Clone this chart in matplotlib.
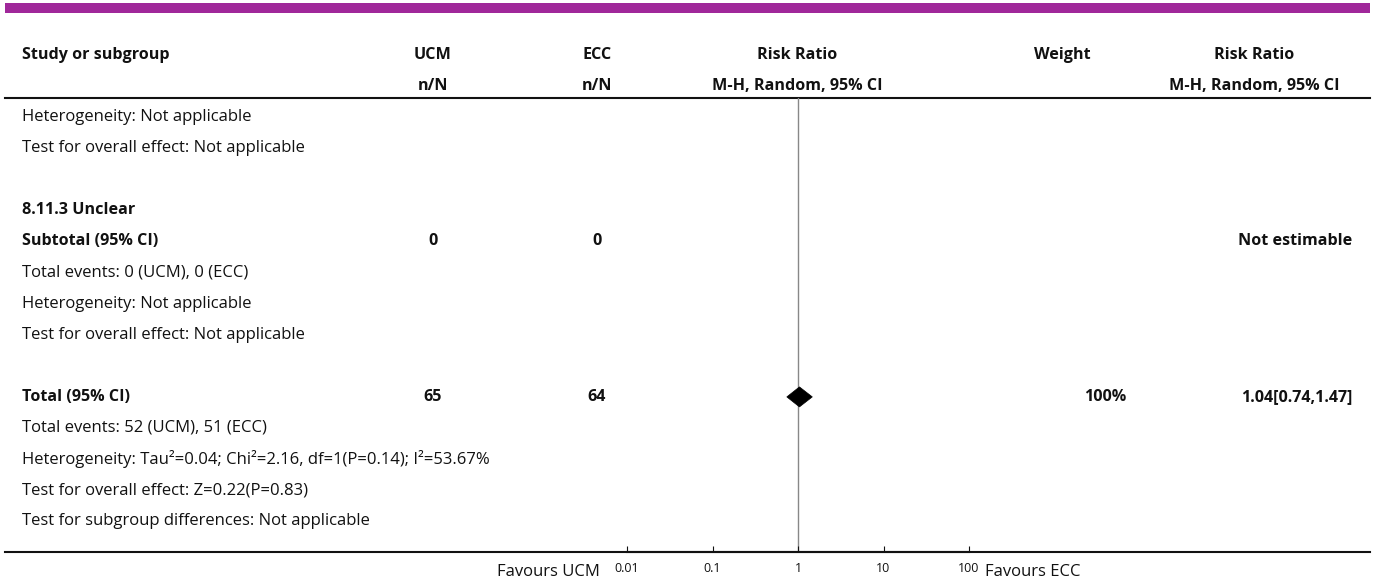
import matplotlib
matplotlib.use("Agg")
import matplotlib.pyplot as plt
from matplotlib.patches import Polygon, Rectangle

# ---- data ----
headers1 = ["Study or subgroup", "UCM", "ECC", "Risk Ratio", "Weight", "Risk Ratio"]
headers2 = ["", "n/N", "n/N", "M-H, Random, 95% CI", "", "M-H, Random, 95% CI"]
subtotal_ucm = 0
subtotal_ecc = 0
total_ucm = 65
total_ecc = 64
total_rr = 1.04
total_lo = 0.74
total_hi = 1.47
total_weight = "100%"
tick_values = [0.01, 0.1, 1, 10, 100]
tick_labels = ["0.01", "0.1", "1", "10", "100"]
left_label = "Favours UCM"
right_label = "Favours ECC"

rows = [
    ("Heterogeneity: Not applicable", False),
    ("Test for overall effect: Not applicable", False),
    ("", False),
    ("8.11.3 Unclear", True),
    ("Subtotal (95% CI)", True),
    ("Total events: 0 (UCM), 0 (ECC)", False),
    ("Heterogeneity: Not applicable", False),
    ("Test for overall effect: Not applicable", False),
    ("", False),
    ("Total (95% CI)", True),
    ("Total events: 52 (UCM), 51 (ECC)", False),
    ("Heterogeneity: Tau\u00b2=0.04; Chi\u00b2=2.16, df=1(P=0.14); I\u00b2=53.67%", False),
    ("Test for overall effect: Z=0.22(P=0.83)", False),
    ("Test for subgroup differences: Not applicable", False),
]

W, H = 1375, 583
fig = plt.figure(figsize=(W / 100, H / 100), dpi=100)
plt.rcParams['font.family'] = ['Open Sans', 'DejaVu Sans']
FS = 12
FSB = 11.6
TC = '#111111'
ax = fig.add_axes([0, 0, 1, 1])
ax.set_xlim(0, W)
ax.set_ylim(H, 0)
ax.axis('off')

# purple band
ax.add_patch(Rectangle((5, 3), 1365, 10, color='#A0289A', lw=0))

# headers
col_x = [22, 433, 597, 797, 1062, 1254]
for i, (h1, h2) in enumerate(zip(headers1, headers2)):
    ha = 'left' if i == 0 else 'center'
    ax.text(col_x[i], 55, h1, ha=ha, va='center', fontsize=FSB, fontweight='bold', color=TC)
    if h2:
        ax.text(col_x[i], 86, h2, ha=ha, va='center', fontsize=FSB, fontweight='bold', color=TC)

ax.plot([5, 1370], [98, 98], color=TC, lw=1.5)
ax.plot([5, 1370], [552, 552], color=TC, lw=1.5)

row_y0 = 117
dy = 31.1
ys = {}
for k, (txt, bold) in enumerate(rows):
    y = row_y0 + k * dy
    ys[txt] = y
    if txt:
        ax.text(22, y, txt, ha='left', va='center', fontsize=FSB if bold else FS,
                fontweight='bold' if bold else 'normal', color=TC)

y_sub = ys["Subtotal (95% CI)"]
ax.text(433, y_sub, str(subtotal_ucm), ha='center', va='center', fontsize=FSB, fontweight='bold', color=TC)
ax.text(597, y_sub, str(subtotal_ecc), ha='center', va='center', fontsize=FSB, fontweight='bold', color=TC)
ax.text(1352, y_sub, "Not estimable", ha='right', va='center', fontsize=FSB, fontweight='bold', color=TC)

y_tot = ys["Total (95% CI)"]
ax.text(433, y_tot, str(total_ucm), ha='center', va='center', fontsize=FSB, fontweight='bold', color=TC)
ax.text(597, y_tot, str(total_ecc), ha='center', va='center', fontsize=FSB, fontweight='bold', color=TC)
ax.text(1105, y_tot, total_weight, ha='center', va='center', fontsize=FSB, fontweight='bold', color=TC)
ax.text(1352, y_tot, f"{total_rr:.2f}[{total_lo:.2f},{total_hi:.2f}]", ha='right', va='center',
        fontsize=FSB, fontweight='bold', color=TC)

ax.text(600, 572, left_label, ha='right', va='center', fontsize=FS, color=TC)
ax.text(985, 572, right_label, ha='left', va='center', fontsize=FS, color=TC)

# forest axes (log scale)
x0, x1 = 627, 969
fax = fig.add_axes([x0 / W, (H - 552) / H, (x1 - x0) / W, (552 - 98) / H])
fax.set_xscale('log')
fax.set_xlim(tick_values[0], tick_values[-1])
fax.set_ylim(552, 98)
fax.patch.set_alpha(0)
for s in ['top', 'left', 'right']:
    fax.spines[s].set_visible(False)
fax.spines['bottom'].set_linewidth(1.5)
fax.spines['bottom'].set_color(TC)
fax.set_yticks([])
fax.set_xticks(tick_values)
fax.set_xticklabels(tick_labels)
fax.minorticks_off()
fax.tick_params(axis='x', direction='in', length=4, width=0.8, pad=7, labelsize=9, colors=TC)
fax.axvline(1, color='#888888', lw=1, zorder=1)

dh = 10
diamond = Polygon([(total_lo, y_tot), (total_rr, y_tot - dh), (total_hi, y_tot), (total_rr, y_tot + dh)],
                  closed=True, facecolor='black', edgecolor='black', lw=0.5, zorder=3)
fax.add_patch(diamond)

fig.savefig("out.png", dpi=100)
